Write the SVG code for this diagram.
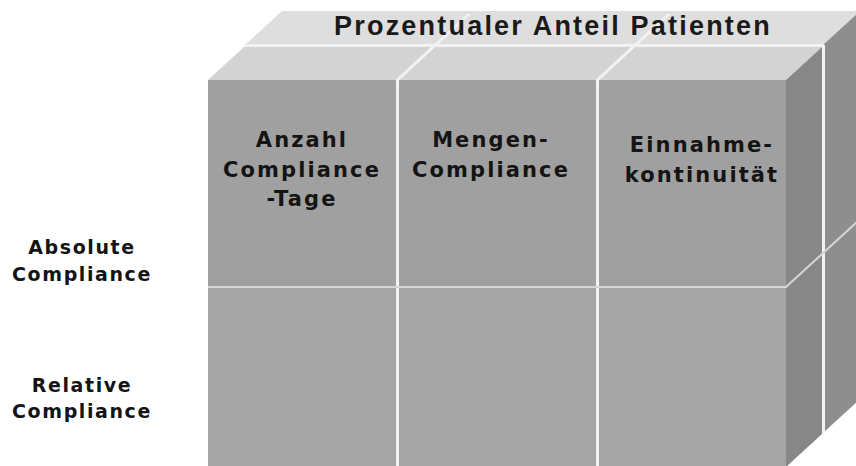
<svg xmlns="http://www.w3.org/2000/svg" width="856" height="466" viewBox="0 0 856 466">
  <style>
    .lbl { font-family: "DejaVu Sans", "Liberation Sans", sans-serif; font-weight: bold; fill: #141414; text-anchor: middle; }
    .col { font-size: 21px; letter-spacing: 2.1px; }
    .row { font-size: 19px; letter-spacing: 1.6px; }
    .title { font-family: "Liberation Sans", "Arial", sans-serif; font-weight: bold; font-size: 27px; letter-spacing: 2.2px; fill: #1a1a1a; text-anchor: middle; }
    .div { stroke: #f2f2f2; stroke-width: 3; fill: none; }
    .hdiv { stroke: #d6d6d6; stroke-width: 2; fill: none; }
  </style>
  <rect width="856" height="466" fill="#ffffff"/>

  <g id="cube">
    <!-- back slab -->
    <polygon points="246,44 824,44 860,11 282,11" fill="#dedede"/>
    <polygon points="824,44 860,11 860,399 824,432" fill="#8e8e8e"/>
    <!-- front slab -->
    <polygon points="208,80 786,80 822,47 244,47" fill="#d3d3d3"/>
    <polygon points="786,80 822,47 822,434 786,467" fill="#878787"/>
    <rect x="208" y="80" width="578" height="207" fill="#a0a0a0"/>
    <rect x="208" y="287" width="578" height="180" fill="#a5a5a5"/>
  </g>

  <g id="dividers">
    <!-- slab separation -->
    <line class="div" x1="244" y1="45.5" x2="824" y2="45.5"/>
    <line class="div" x1="823.5" y1="45" x2="823.5" y2="434" stroke-width="2"/>
    <!-- column dividers -->
    <polyline class="div" points="397.5,467 397.5,80 469,14"/>
    <polyline class="div" points="597.5,467 597.5,80 669,14"/>
    <!-- row divider -->
    <polyline class="hdiv" points="208,287 786,287 858,221"/>
  </g>

  <g id="title">
    <text class="title" x="553" y="35">Prozentualer Anteil Patienten</text>
  </g>

  <g id="col-anzahl">
    <text class="lbl col" x="302" y="147">Anzahl</text>
    <text class="lbl col" x="302" y="177">Compliance</text>
    <text class="lbl col" x="302" y="206">-Tage</text>
  </g>
  <g id="col-mengen">
    <text class="lbl col" x="491" y="147">Mengen-</text>
    <text class="lbl col" x="491" y="177">Compliance</text>
  </g>
  <g id="col-einnahme">
    <text class="lbl col" x="702" y="152">Einnahme-</text>
    <text class="lbl col" x="702" y="182">kontinuität</text>
  </g>

  <g id="row-absolute">
    <text class="lbl row" x="82" y="254">Absolute</text>
    <text class="lbl row" x="82" y="281">Compliance</text>
  </g>
  <g id="row-relative">
    <text class="lbl row" x="82" y="392">Relative</text>
    <text class="lbl row" x="82" y="418">Compliance</text>
  </g>
</svg>
